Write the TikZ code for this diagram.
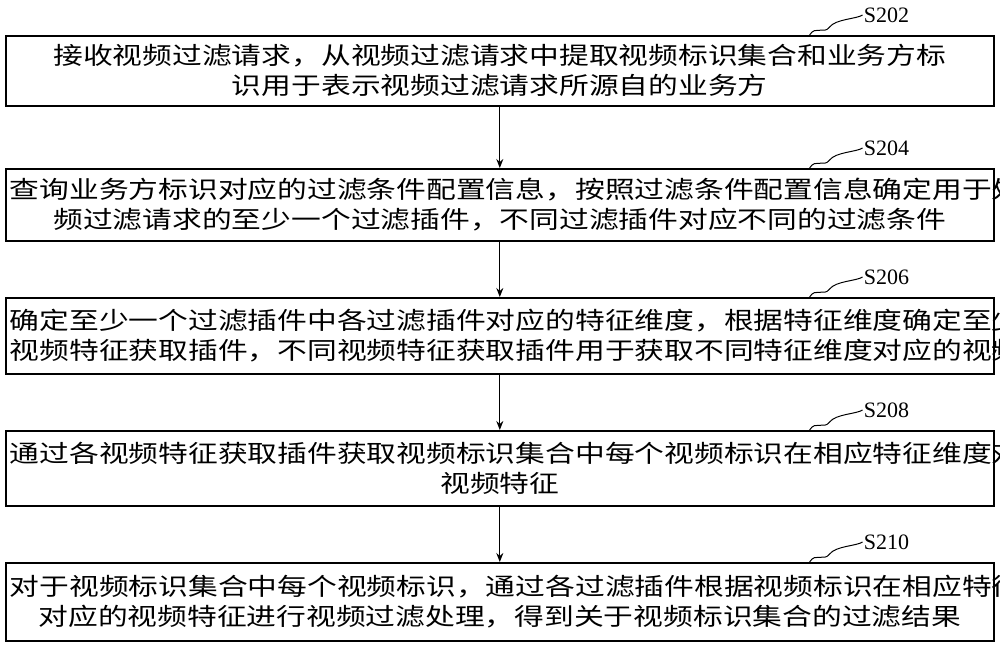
\documentclass[tikz,border=0pt]{standalone}
\usetikzlibrary{arrows.meta}
\usepackage{fontspec}
\setmainfont{Liberation Serif}
\newfontfamily\cjk[FakeStretch=1.24]{Noto Sans CJK SC}
\begin{document}
\begin{tikzpicture}[x=1pt,y=-1pt,
  stepbox/.style={draw,line width=1.6pt,minimum width=988pt,text width=980pt,anchor=north west,inner xsep=4pt,inner ysep=0pt,align=center,font=\cjk\fontsize{24}{30}\selectfont},
  lab/.style={font=\fontsize{22}{24}\selectfont},
  arr/.style={-{Stealth[length=9pt,width=7pt]},line width=1.2pt}]
\useasboundingbox (0,0) rectangle (1000,656);
\node[stepbox,minimum height=70pt] (b1) at (5,35) {接收视频过滤请求，从视频过滤请求中提取视频标识集合和业务方标\\识用于表示视频过滤请求所源自的业务方};
\node[stepbox,minimum height=72pt] (b2) at (5,168) {查询业务方标识对应的过滤条件配置信息，按照过滤条件配置信息确定用于处理视\\频过滤请求的至少一个过滤插件，不同过滤插件对应不同的过滤条件};
\node[stepbox,minimum height=76pt] (b3) at (5,297) {确定至少一个过滤插件中各过滤插件对应的特征维度，根据特征维度确定至少一个\\视频特征获取插件，不同视频特征获取插件用于获取不同特征维度对应的视频特征};
\node[stepbox,minimum height=75pt] (b4) at (5,430) {通过各视频特征获取插件获取视频标识集合中每个视频标识在相应特征维度对应的\\视频特征};
\node[stepbox,minimum height=78pt] (b5) at (5,562) {对于视频标识集合中每个视频标识，通过各过滤插件根据视频标识在相应特征维度\\对应的视频特征进行视频过滤处理，得到关于视频标识集合的过滤结果};
\foreach \a/\b in {b1/b2,b2/b3,b3/b4,b4/b5} \draw[arr] (\a.south) -- (\b.north);
\foreach \b/\t in {b1/S202,b2/S204,b3/S206,b4/S208,b5/S210}{
  \coordinate (s\b) at ([xshift=-185pt]\b.north east);
  \node[lab,anchor=west,inner sep=1pt] (l\b) at ([xshift=-132pt,yshift=20pt]\b.north east) {\t};
  \draw[line width=1pt] (s\b) .. controls +(6,-10) and +(-6,8) .. ++(20,-8) .. controls +(6,-8) and +(-6,4) .. (l\b.west);
}
\end{tikzpicture}
\end{document}
